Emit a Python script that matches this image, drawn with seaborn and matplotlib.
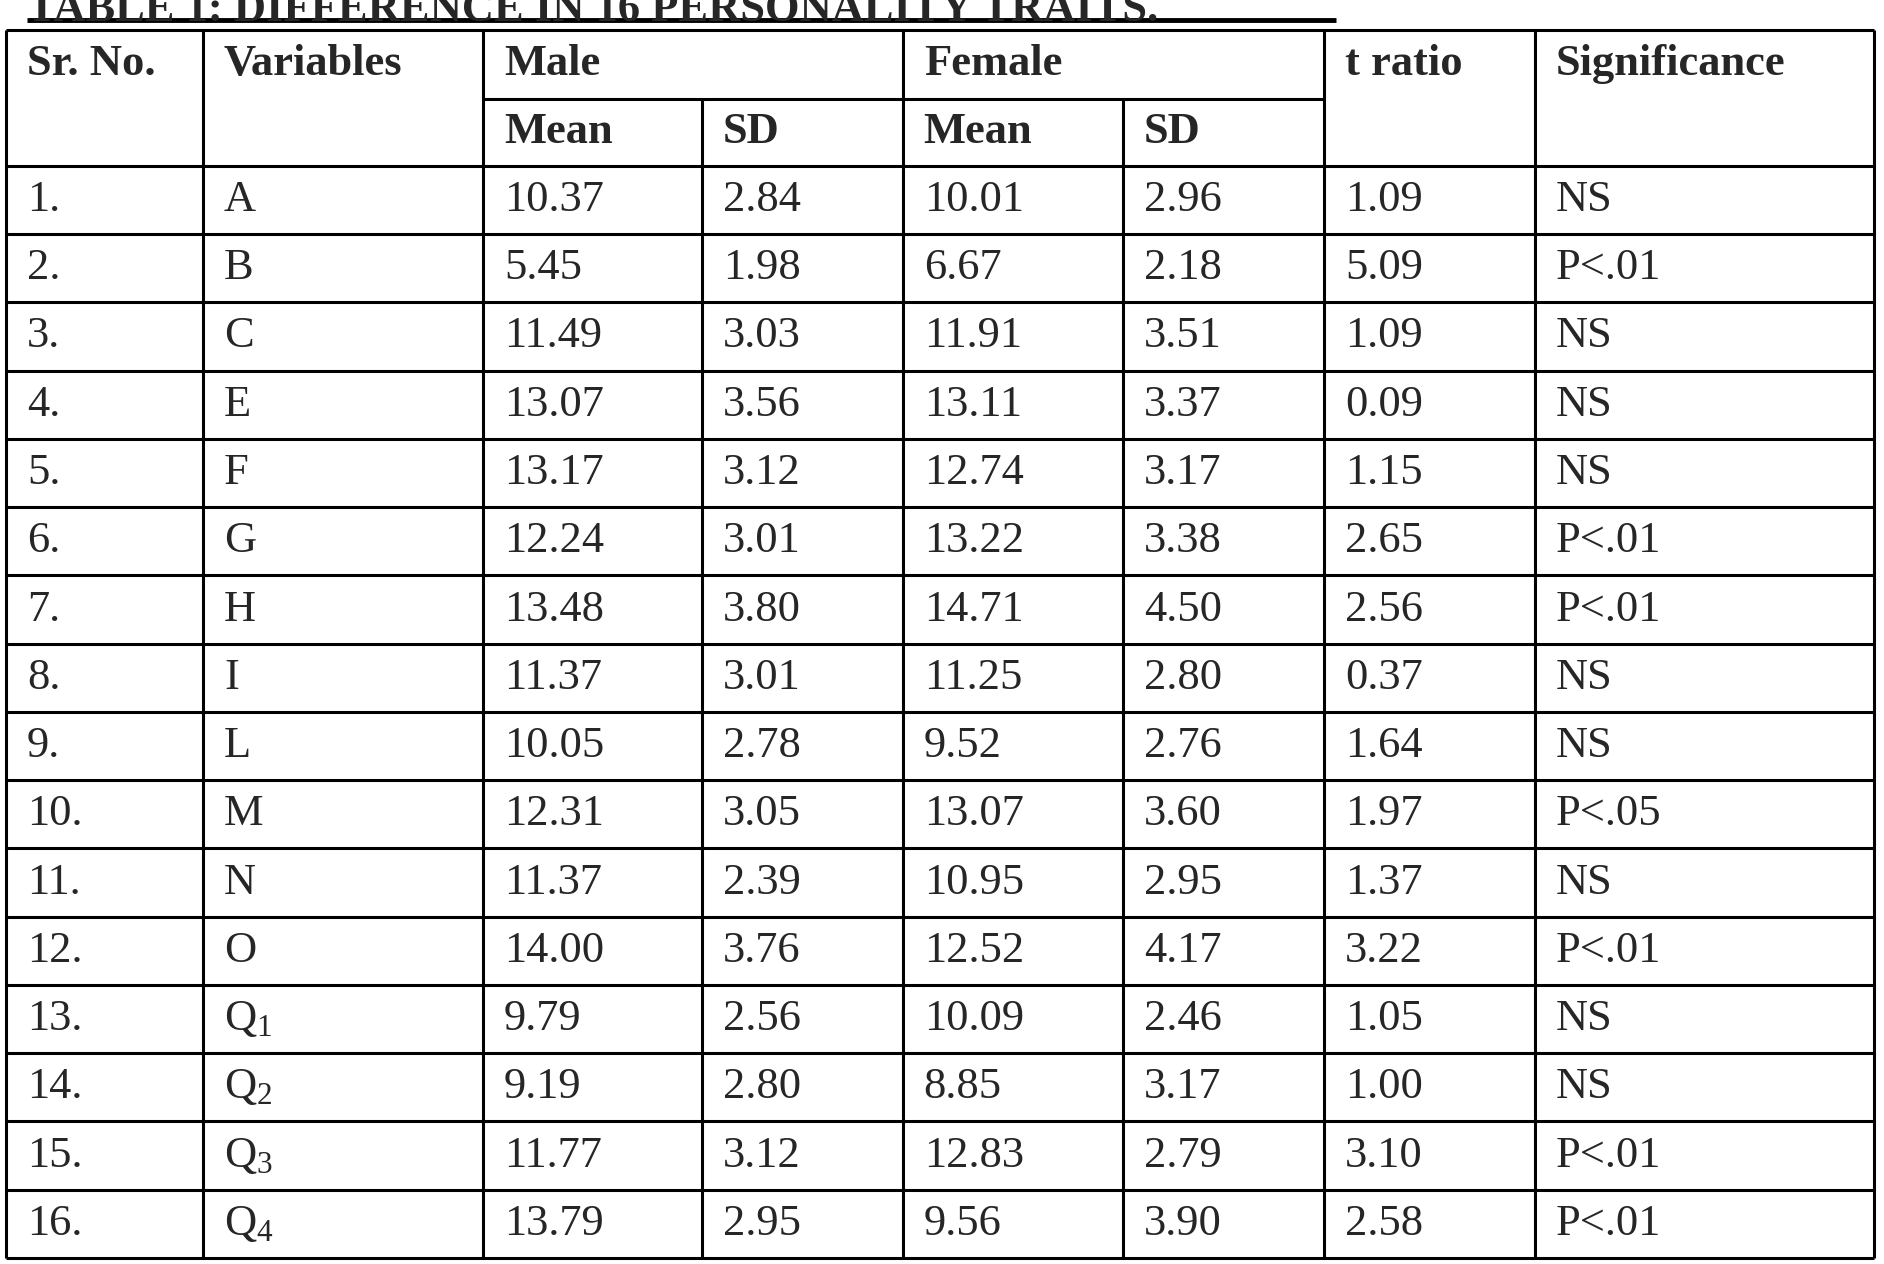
import matplotlib
matplotlib.use("Agg")
import matplotlib.pyplot as plt
import seaborn as sns

sns.set_theme(style="white")
plt.rcParams['font.family'] = ['Liberation Serif', 'DejaVu Serif']
plt.rcParams['mathtext.fontset'] = 'custom'
plt.rcParams['mathtext.rm'] = 'Liberation Serif'
plt.rcParams['mathtext.it'] = 'Liberation Serif'

title = "TABLE 1: DIFFERENCE IN 16 PERSONALITY TRAITS."
sr_no = [f"{i}." for i in range(1, 17)]
variables = ["A", "B", "C", "E", "F", "G", "H", "I", "L", "M", "N", "O",
             r"Q$_1$", r"Q$_2$", r"Q$_3$", r"Q$_4$"]
male_mean = ["10.37", "5.45", "11.49", "13.07", "13.17", "12.24", "13.48", "11.37",
             "10.05", "12.31", "11.37", "14.00", "9.79", "9.19", "11.77", "13.79"]
male_sd = ["2.84", "1.98", "3.03", "3.56", "3.12", "3.01", "3.80", "3.01",
           "2.78", "3.05", "2.39", "3.76", "2.56", "2.80", "3.12", "2.95"]
female_mean = ["10.01", "6.67", "11.91", "13.11", "12.74", "13.22", "14.71", "11.25",
               "9.52", "13.07", "10.95", "12.52", "10.09", "8.85", "12.83", "9.56"]
female_sd = ["2.96", "2.18", "3.51", "3.37", "3.17", "3.38", "4.50", "2.80",
             "2.76", "3.60", "2.95", "4.17", "2.46", "3.17", "2.79", "3.90"]
t_ratio = ["1.09", "5.09", "1.09", "0.09", "1.15", "2.65", "2.56", "0.37",
           "1.64", "1.97", "1.37", "3.22", "1.05", "1.00", "3.10", "2.58"]
significance = ["NS", "P<.01", "NS", "NS", "NS", "P<.01", "P<.01", "NS",
                "NS", "P<.05", "NS", "P<.01", "NS", "NS", "P<.01", "P<.01"]

W, H = 1548, 1052
fig = plt.figure(figsize=(18.84, 12.64), dpi=100)
ax = fig.add_axes([0, 0, 1, 1])
ax.set_xlim(0, W)
ax.set_ylim(H, 0)
ax.axis("off")

xs = [5, 167, 397, 577, 742, 923, 1088, 1261, 1540]
y_top, y_h1, y_h2 = 25, 82, 138
row_h = (1047 - y_h2) / 16
ys = [y_h2 + i * row_h for i in range(17)]
lw = 2.2
kw = dict(color="black", lw=lw, solid_capstyle="butt")

# outer border
ax.plot([xs[0], xs[-1]], [y_top, y_top], **kw)
ax.plot([xs[0], xs[-1]], [ys[-1], ys[-1]], **kw)
for x in xs:
    if x in (577, 923):
        ax.plot([x, x], [y_h1, ys[-1]], **kw)
    else:
        ax.plot([x, x], [y_top, ys[-1]], **kw)
ax.plot([xs[2], xs[6]], [y_h1, y_h1], **kw)
for y in ys[:-1]:
    ax.plot([xs[0], xs[-1]], [y, y], **kw)

fs = 32
pad = 17
hk = dict(fontsize=fs, fontweight="bold", va="center", ha="left")
ax.text(xs[0] + pad, (y_top + y_h1) / 2, "Sr. No.", **hk)
ax.text(xs[1] + pad, (y_top + y_h1) / 2, "Variables", **hk)
ax.text(xs[2] + pad, (y_top + y_h1) / 2, "Male", **hk)
ax.text(xs[4] + pad, (y_top + y_h1) / 2, "Female", **hk)
ax.text(xs[6] + pad, (y_top + y_h1) / 2, "t ratio", **hk)
ax.text(xs[7] + pad, (y_top + y_h1) / 2, "Significance", **hk)
for i, lab in enumerate(["Mean", "SD", "Mean", "SD"]):
    ax.text(xs[2 + i] + pad, (y_h1 + y_h2) / 2, lab, **hk)

cols = [sr_no, variables, male_mean, male_sd, female_mean, female_sd, t_ratio, significance]
for c, col in enumerate(cols):
    for r, val in enumerate(col):
        ax.text(xs[c] + pad, (ys[r] + ys[r + 1]) / 2, val, fontsize=fs,
                va="center", ha="left")

# clipped title
ax.text(22, 8, title, fontsize=fs, fontweight="bold", va="center", ha="left")
ax.plot([22, 1098], [17, 17], color="black", lw=3.5, solid_capstyle="butt")

fig.savefig("out.png", dpi=100)
